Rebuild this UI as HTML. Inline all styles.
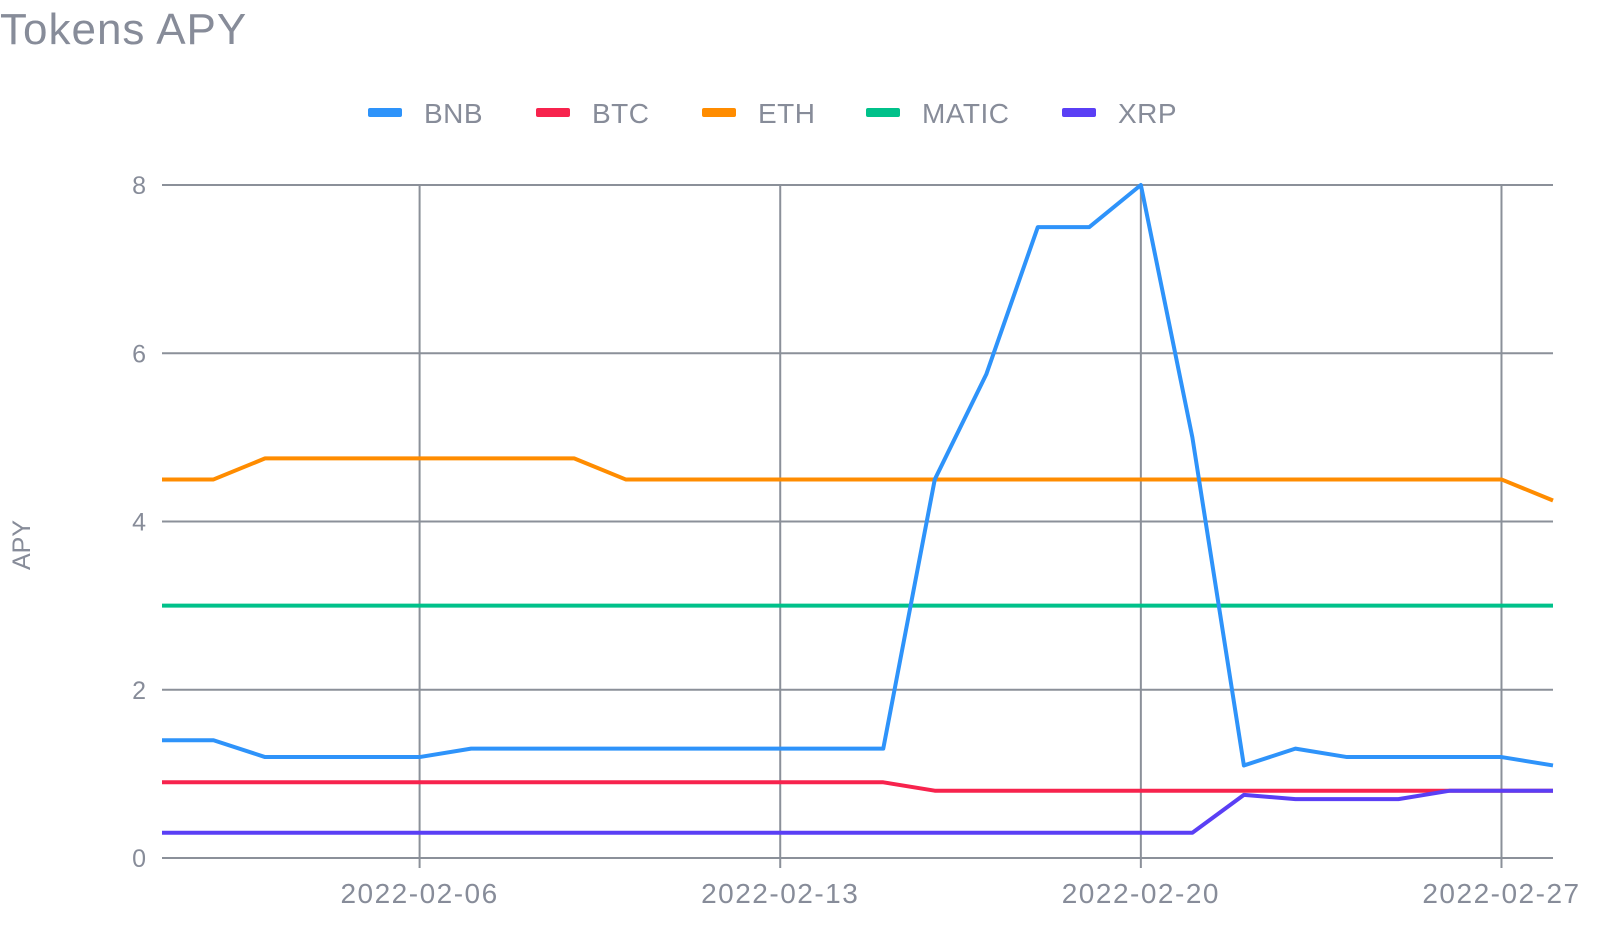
<!DOCTYPE html>
<html><head><meta charset="utf-8"><style>
body{margin:0;background:#fff;font-family:"Liberation Sans",sans-serif;}
svg{display:block}
text{fill:#878c99;font-family:"Liberation Sans",sans-serif}
</style></head><body>
<svg id="chart" width="1600" height="933">
<text x="0" y="44" font-size="44" letter-spacing="1">Tokens APY</text>
<text transform="translate(30,545) rotate(-90)" font-size="25" text-anchor="middle">APY</text>
<g id="grid"></g><g id="series"></g><g id="legend"></g>
</svg>
<script>
const dates = ["2022-02-01","2022-02-02","2022-02-03","2022-02-04","2022-02-05","2022-02-06","2022-02-07","2022-02-08","2022-02-09","2022-02-10","2022-02-11","2022-02-12","2022-02-13","2022-02-14","2022-02-15","2022-02-16","2022-02-17","2022-02-18","2022-02-19","2022-02-20","2022-02-21","2022-02-22","2022-02-23","2022-02-24","2022-02-25","2022-02-26","2022-02-27","2022-02-28"];
const seriesNames = ["BNB","BTC","ETH","MATIC","XRP"];
const bnb = [1.4,1.4,1.2,1.2,1.2,1.2,1.3,1.3,1.3,1.3,1.3,1.3,1.3,1.3,1.3,4.5,5.75,7.5,7.5,8,5,1.1,1.3,1.2,1.2,1.2,1.2,1.1];
const btc = [0.9,0.9,0.9,0.9,0.9,0.9,0.9,0.9,0.9,0.9,0.9,0.9,0.9,0.9,0.9,0.8,0.8,0.8,0.8,0.8,0.8,0.8,0.8,0.8,0.8,0.8,0.8,0.8];
const eth = [4.5,4.5,4.75,4.75,4.75,4.75,4.75,4.75,4.75,4.5,4.5,4.5,4.5,4.5,4.5,4.5,4.5,4.5,4.5,4.5,4.5,4.5,4.5,4.5,4.5,4.5,4.5,4.25];
const matic = [3,3,3,3,3,3,3,3,3,3,3,3,3,3,3,3,3,3,3,3,3,3,3,3,3,3,3,3];
const xrp = [0.3,0.3,0.3,0.3,0.3,0.3,0.3,0.3,0.3,0.3,0.3,0.3,0.3,0.3,0.3,0.3,0.3,0.3,0.3,0.3,0.3,0.75,0.7,0.7,0.7,0.8,0.8,0.8];
const yTicks = [0,2,4,6,8];
const xTickLabels = ["2022-02-06","2022-02-13","2022-02-20","2022-02-27"];
const colors = ["#2e93fa","#f7234d","#ff8c00","#00c18a","#5a3ff5"];
const NS="http://www.w3.org/2000/svg";
const X0=162,X1=1553,Y0=858,Y1=185;
const xs=i=>X0+(X1-X0)*i/(dates.length-1);
const ys=v=>Y0-(Y0-Y1)*v/8;
function mk(t,a,p){const e=document.createElementNS(NS,t);for(const k in a)e.setAttribute(k,a[k]);p.appendChild(e);return e;}
const grid=document.getElementById('grid');
yTicks.forEach(v=>{
  const l=mk('line',{x1:X0,x2:X1,y1:ys(v),y2:ys(v),stroke:'#8b9099','stroke-width':2},grid);
  
  
  const t=mk('text',{x:146,y:ys(v)+9,'font-size':25,'text-anchor':'end'},grid);
  t.textContent=v;
  
  
});
xTickLabels.forEach(d=>{
  const i=dates.indexOf(d),x=xs(i);
  const l=mk('line',{x1:x,x2:x,y1:Y1,y2:Y0+10,stroke:'#8b9099','stroke-width':2},grid);
  
  
  const t=mk('text',{x:x,y:903,'font-size':28,'letter-spacing':'1.5','text-anchor':'middle'},grid);
  t.textContent=d;
  
  
});
const data=[bnb,btc,eth,matic,xrp];
const order=[3,2,1,4,0];
const sg=document.getElementById('series');
order.forEach(k=>{
  const pts=data[k].map((v,i)=>xs(i)+','+ys(v)).join(' ');
  const p=mk('polyline',{points:pts,fill:'none',stroke:colors[k],'stroke-width':4,'stroke-linejoin':'round'},sg);
  
  
});
const lg=document.getElementById('legend');
const lx=[368,536,702,866,1062];
seriesNames.forEach((n,k)=>{
  const g=mk('g',{},lg);
  
  
  mk('rect',{x:lx[k],y:108,width:34,height:9,rx:2,fill:colors[k]},g);
  const t=mk('text',{x:lx[k]+56,y:123,'font-size':28,'letter-spacing':'0.5'},g);
  t.textContent=n;
});
</script>
</body></html>
